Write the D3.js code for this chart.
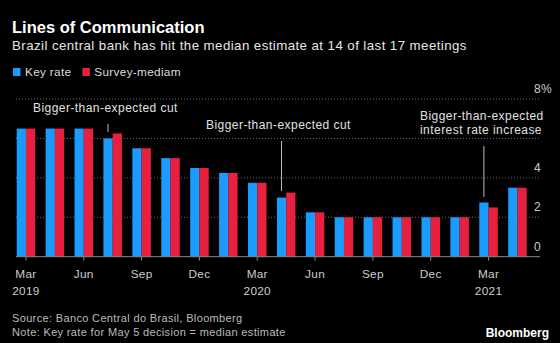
<!DOCTYPE html>
<html>
<head>
<meta charset="utf-8">
<script src="https://cdn.jsdelivr.net/npm/d3@7"></script>
<style>
  body { margin: 0; background: #000; }
  text { font-family: "Liberation Sans", Arial, sans-serif; }
</style>
</head>
<body>
<div id="chart"></div>
<script>
// Copom meeting dates and rates (%)
const meetings = ["2019-03-20", "2019-05-08", "2019-06-19", "2019-07-31", "2019-09-18", "2019-10-30",
  "2019-12-11", "2020-02-05", "2020-03-18", "2020-05-06", "2020-06-17", "2020-08-05",
  "2020-09-16", "2020-10-28", "2020-12-09", "2021-01-20", "2021-03-17", "2021-05-05"];
const keyRate = [6.5, 6.5, 6.5, 6.0, 5.5, 5.0, 4.5, 4.25, 3.75, 3.0, 2.25, 2.0, 2.0, 2.0, 2.0, 2.0, 2.75, 3.5];
const surveyMedian = [6.5, 6.5, 6.5, 6.25, 5.5, 5.0, 4.5, 4.25, 3.75, 3.25, 2.25, 2.0, 2.0, 2.0, 2.0, 2.0, 2.5, 3.5];
const seriesNames = ["Key rate", "Survey-mediam"];
const colors = ["#1b9bfd", "#e8203f"];
const yTicks = [0, 2, 4, 6, 8];
// x labels sit under every second meeting
const xTicks = ["2019-03-20", "2019-06-19", "2019-09-18", "2019-12-11", "2020-03-18",
  "2020-06-17", "2020-09-16", "2020-12-09", "2021-03-17"];
const notes = [
  {meeting: "2019-07-31", lines: ["Bigger-than-expected cut"]},
  {meeting: "2020-05-06", lines: ["Bigger-than-expected cut"]},
  {meeting: "2021-03-17", lines: ["Bigger-than-expected", "interest rate increase"]}
];

const W = 560, H = 343;
const svg = d3.select("#chart").append("svg")
  .attr("width", W).attr("height", H)
  .style("background", "#000");

// header
svg.append("text").attr("x", 12).attr("y", 33)
  .attr("fill", "#fff").attr("font-size", 16.5).attr("font-weight", "bold")
  .text("Lines of Communication");
svg.append("text").attr("x", 12).attr("y", 50)
  .attr("fill", "#e6e6e6").attr("font-size", 13.3).attr("letter-spacing", 0.42)
  .text("Brazil central bank has hit the median estimate at 14 of last 17 meetings");

// legend
const legend = svg.append("g").attr("transform", "translate(13,68)");
let lx = 0;
seriesNames.forEach((name, i) => {
  legend.append("rect").attr("x", lx).attr("y", 0).attr("width", 7.5).attr("height", 8)
    .attr("fill", colors[i]);
  const t = legend.append("text").attr("x", lx + 12).attr("y", 8)
    .attr("fill", "#ddd").attr("font-size", 11.8).attr("letter-spacing", 0.3).text(name);
  lx += 12 + t.node().getComputedTextLength() + 11;
});

// scales
const x = d3.scaleBand().domain(meetings).range([16.7, 526.7])
  .paddingInner(0.36).paddingOuter(0);
const xs = d3.scaleBand().domain([0, 1]).range([0, x.bandwidth()]);
const y = d3.scaleLinear().domain([0, 8]).range([256.7, 99]);

// dotted grid
svg.append("g").selectAll("line")
  .data(yTicks.filter(d => d > 0))
  .join("line")
  .attr("x1", 16).attr("x2", 540)
  .attr("y1", d => y(d)).attr("y2", d => y(d))
  .attr("stroke", "#6a6a6a").attr("stroke-dasharray", "1,2");

// bars
const rows = meetings.map((m, i) => ({m, vals: [keyRate[i], surveyMedian[i]]}));
svg.append("g").selectAll("g")
  .data(rows)
  .join("g")
  .attr("transform", d => `translate(${x(d.m)},0)`)
  .selectAll("rect")
  .data(d => d.vals)
  .join("rect")
  .attr("x", (d, i) => xs(i))
  .attr("width", xs.bandwidth())
  .attr("y", d => y(d))
  .attr("height", d => y(0) - y(d))
  .attr("fill", (d, i) => colors[i]);

// y axis on the right, labels sit above their grid lines;
// the 6 label is left off, the rate-increase note covers that spot
const yAxis = svg.append("g").attr("transform", "translate(534,0)")
  .call(d3.axisRight(y).tickValues(yTicks).tickSize(0).tickPadding(0)
    .tickFormat(d => d === 8 ? "8%" : d === 6 ? "" : d));
yAxis.select(".domain").remove();
yAxis.selectAll("text")
  .attr("fill", "#ccc").attr("font-size", 12)
  .attr("font-family", "Liberation Sans, Arial, sans-serif")
  .attr("letter-spacing", 0.3)
  .attr("dy", "-0.55em");

// x axis
const fmtMonth = d3.timeFormat("%b"), fmtYear = d3.timeFormat("%Y");
const parse = d3.timeParse("%Y-%m-%d");
const xAxis = svg.append("g").attr("transform", `translate(0,${y(0)})`)
  .call(d3.axisBottom(x).tickValues(xTicks).tickSize(4).tickFormat(""));
xAxis.select(".domain").remove();
xAxis.selectAll(".tick line").attr("stroke", "#888")
  .attr("transform", `translate(${-x.bandwidth() / 2 + xs.bandwidth()},0)`);
svg.append("line").attr("x1", 16).attr("x2", 540)
  .attr("y1", y(0)).attr("y2", y(0)).attr("stroke", "#888");

const xl = svg.append("g").selectAll("text")
  .data(xTicks)
  .join("text")
  .attr("x", d => x(d) + xs.bandwidth())
  .attr("y", 278)
  .attr("text-anchor", "middle")
  .attr("fill", "#ccc").attr("font-size", 11.8).attr("letter-spacing", 0.3);
xl.append("tspan").text(d => fmtMonth(parse(d)));
xl.filter(d => fmtMonth(parse(d)) === "Mar")
  .append("tspan").attr("x", d => x(d) + xs.bandwidth()).attr("dy", 17)
  .text(d => fmtYear(parse(d)));

// annotations
const notePos = [
  {tx: 33, ty: 112, y1: 124, y2: 132},
  {tx: 206, ty: 129, y1: 141, y2: 191},
  {tx: 420, ty: 120, y1: 146, y2: 197}
];
notes.forEach((n, i) => {
  const p = notePos[i];
  const lxp = x(n.meeting) + xs.bandwidth() / 2;
  svg.append("line").attr("x1", lxp).attr("x2", lxp)
    .attr("y1", p.y1).attr("y2", p.y2)
    .attr("stroke", "#bbb").attr("stroke-width", 1);
  const t = svg.append("text").attr("x", p.tx).attr("y", p.ty)
    .attr("fill", "#e0e0e0").attr("font-size", 12).attr("letter-spacing", 0.45);
  n.lines.forEach((l, j) => {
    t.append("tspan").attr("x", p.tx).attr("dy", j === 0 ? 0 : 13.8).text(l);
  });
});

// footer
svg.append("text").attr("x", 12).attr("y", 322)
  .attr("fill", "#bbb").attr("font-size", 11).attr("letter-spacing", 0.35)
  .text("Source: Banco Central do Brasil, Bloomberg");
svg.append("text").attr("x", 12).attr("y", 336)
  .attr("fill", "#bbb").attr("font-size", 11).attr("letter-spacing", 0.35)
  .text("Note: Key rate for May 5 decision = median estimate");
svg.append("text").attr("x", 549).attr("y", 337).attr("text-anchor", "end")
  .attr("fill", "#fff").attr("font-size", 12).attr("font-weight", "bold")
  .text("Bloomberg");
</script>
</body>
</html>
